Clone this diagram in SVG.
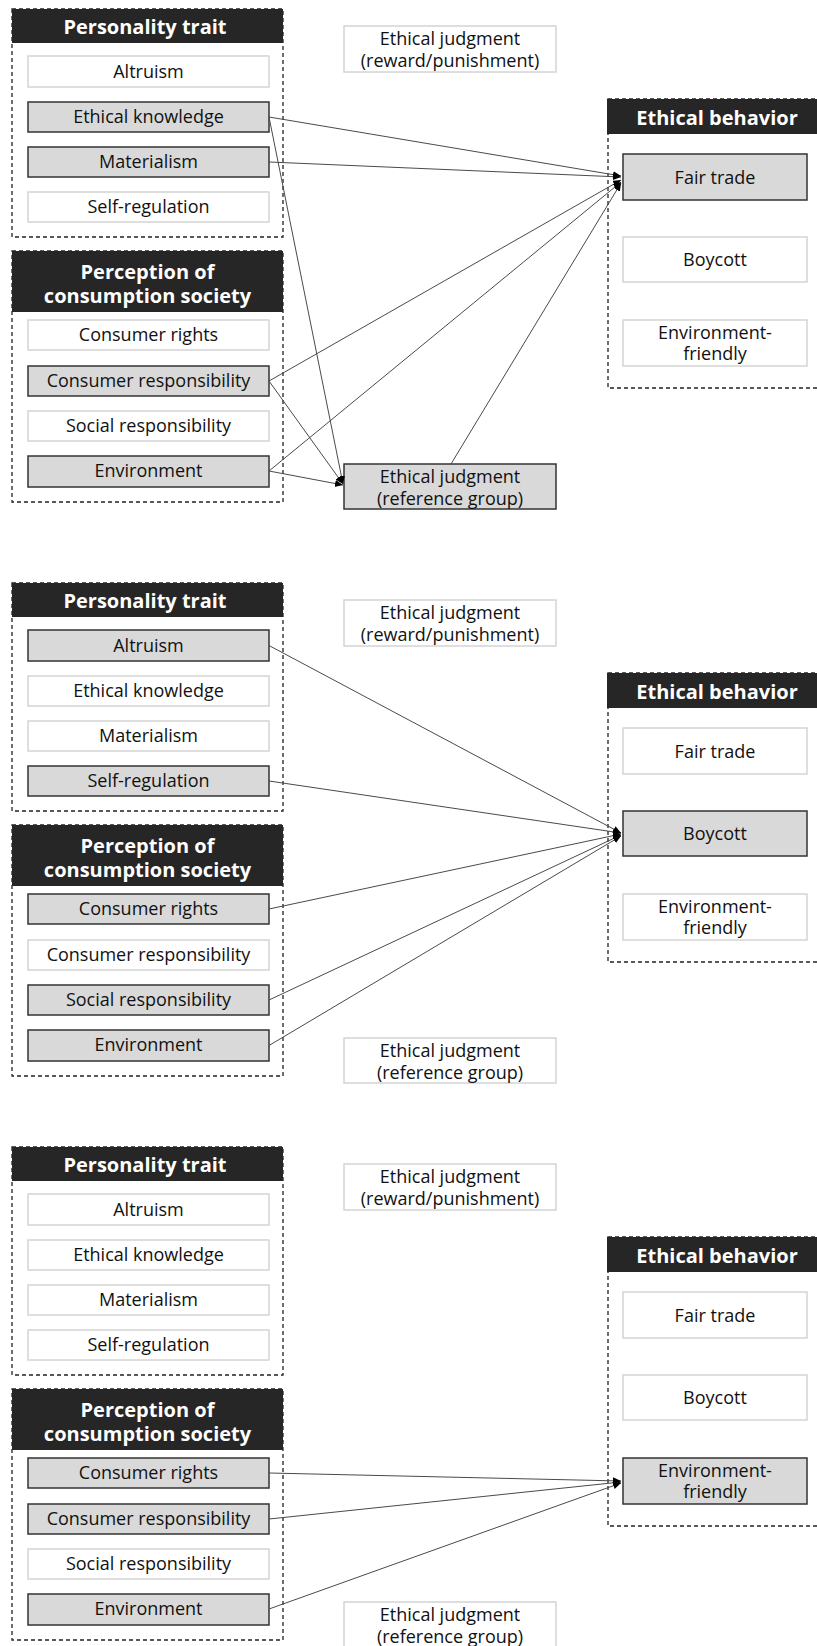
<svg xmlns="http://www.w3.org/2000/svg" width="817" height="1646" viewBox="0 0 817 1646">
<style>
text{font-family:"Open Sans","Noto Sans","DejaVu Sans",sans-serif;text-anchor:middle;fill:#111}
.hd{fill:#262626}
.hdt{font-weight:bold;font-size:20px;fill:#fff}
.dash{fill:none;stroke:#222;stroke-width:1.3;stroke-dasharray:4 3}
.on{fill:#d9d9d9;stroke:#333;stroke-width:1.5}
.off{fill:#fff;stroke:#d4d4d4;stroke-width:1.5}
.t{font-size:18px}
.ln{stroke:#4a4a4a;stroke-width:1;fill:none;marker-end:url(#ah)}
</style>
<defs>
<marker id="ah" markerUnits="userSpaceOnUse" markerWidth="9" markerHeight="8" refX="8" refY="3.5" orient="auto">
<path d="M0,0 L8,3.5 L0,7 z" fill="#000"/>
</marker>
</defs>
<rect width="817" height="1646" fill="#fff"/>

<!-- ========== PANEL 1 ========== -->
<g id="panel1">
<g id="p1-personality">
<rect class="dash" x="12" y="9" width="271" height="228"/>
<rect class="hd" x="12" y="9" width="271" height="34"/>
<text class="hdt" x="145" y="34">Personality trait</text>
</g>
<g id="p1-altruism"><rect class="off" x="28" y="56" width="241" height="31"/><text class="t" x="148.5" y="78">Altruism</text></g>
<g id="p1-ethical-knowledge"><rect class="on" x="28" y="102" width="241" height="30"/><text class="t" x="148.5" y="123">Ethical knowledge</text></g>
<g id="p1-materialism"><rect class="on" x="28" y="147" width="241" height="30"/><text class="t" x="148.5" y="168">Materialism</text></g>
<g id="p1-self-regulation"><rect class="off" x="28" y="192" width="241" height="30"/><text class="t" x="148.5" y="213">Self-regulation</text></g>
<g id="p1-perception">
<rect class="dash" x="12" y="251" width="271" height="251"/>
<rect class="hd" x="12" y="251" width="271" height="61"/>
<text class="hdt" x="147.5" y="279">Perception of</text>
<text class="hdt" x="147.5" y="303">consumption society</text>
</g>
<g id="p1-consumer-rights"><rect class="off" x="28" y="320" width="241" height="30"/><text class="t" x="148.5" y="341">Consumer rights</text></g>
<g id="p1-consumer-responsibility"><rect class="on" x="28" y="366" width="241" height="30"/><text class="t" x="148.5" y="387">Consumer responsibility</text></g>
<g id="p1-social-responsibility"><rect class="off" x="28" y="411" width="241" height="30"/><text class="t" x="148.5" y="432">Social responsibility</text></g>
<g id="p1-environment"><rect class="on" x="28" y="456" width="241" height="31"/><text class="t" x="148.5" y="477">Environment</text></g>
<g id="p1-judgment-reward"><rect class="off" x="344" y="26" width="212" height="46"/><text class="t" x="450" y="45">Ethical judgment</text><text class="t" x="450" y="67">(reward/punishment)</text></g>
<g id="p1-judgment-reference"><rect class="on" x="344" y="464" width="212" height="45"/><text class="t" x="450" y="483">Ethical judgment</text><text class="t" x="450" y="505">(reference group)</text></g>
<g id="p1-ethical-behavior">
<rect class="dash" x="608" y="99" width="240" height="289"/>
<rect class="hd" x="607" y="99" width="225" height="35"/>
<text class="hdt" x="717" y="125">Ethical behavior</text>
</g>
<g id="p1-fair-trade"><rect class="on" x="623" y="154" width="184" height="46"/><text class="t" x="715" y="184">Fair trade</text></g>
<g id="p1-boycott"><rect class="off" x="623" y="237" width="184" height="45"/><text class="t" x="715" y="266">Boycott</text></g>
<g id="p1-env-friendly"><rect class="off" x="623" y="320" width="184" height="46"/><text class="t" x="715" y="339">Environment-</text><text class="t" x="715" y="360">friendly</text></g>
</g>

<!-- ========== PANEL 2 ========== -->
<g id="panel2" transform="translate(0,574)">
<g id="p2-personality">
<rect class="dash" x="12" y="9" width="271" height="228"/>
<rect class="hd" x="12" y="9" width="271" height="34"/>
<text class="hdt" x="145" y="34">Personality trait</text>
</g>
<g id="p2-altruism"><rect class="on" x="28" y="56" width="241" height="31"/><text class="t" x="148.5" y="78">Altruism</text></g>
<g id="p2-ethical-knowledge"><rect class="off" x="28" y="102" width="241" height="30"/><text class="t" x="148.5" y="123">Ethical knowledge</text></g>
<g id="p2-materialism"><rect class="off" x="28" y="147" width="241" height="30"/><text class="t" x="148.5" y="168">Materialism</text></g>
<g id="p2-self-regulation"><rect class="on" x="28" y="192" width="241" height="30"/><text class="t" x="148.5" y="213">Self-regulation</text></g>
<g id="p2-perception">
<rect class="dash" x="12" y="251" width="271" height="251"/>
<rect class="hd" x="12" y="251" width="271" height="61"/>
<text class="hdt" x="147.5" y="279">Perception of</text>
<text class="hdt" x="147.5" y="303">consumption society</text>
</g>
<g id="p2-consumer-rights"><rect class="on" x="28" y="320" width="241" height="30"/><text class="t" x="148.5" y="341">Consumer rights</text></g>
<g id="p2-consumer-responsibility"><rect class="off" x="28" y="366" width="241" height="30"/><text class="t" x="148.5" y="387">Consumer responsibility</text></g>
<g id="p2-social-responsibility"><rect class="on" x="28" y="411" width="241" height="30"/><text class="t" x="148.5" y="432">Social responsibility</text></g>
<g id="p2-environment"><rect class="on" x="28" y="456" width="241" height="31"/><text class="t" x="148.5" y="477">Environment</text></g>
<g id="p2-judgment-reward"><rect class="off" x="344" y="26" width="212" height="46"/><text class="t" x="450" y="45">Ethical judgment</text><text class="t" x="450" y="67">(reward/punishment)</text></g>
<g id="p2-judgment-reference"><rect class="off" x="344" y="464" width="212" height="45"/><text class="t" x="450" y="483">Ethical judgment</text><text class="t" x="450" y="505">(reference group)</text></g>
<g id="p2-ethical-behavior">
<rect class="dash" x="608" y="99" width="240" height="289"/>
<rect class="hd" x="607" y="99" width="225" height="35"/>
<text class="hdt" x="717" y="125">Ethical behavior</text>
</g>
<g id="p2-fair-trade"><rect class="off" x="623" y="154" width="184" height="46"/><text class="t" x="715" y="184">Fair trade</text></g>
<g id="p2-boycott"><rect class="on" x="623" y="237" width="184" height="45"/><text class="t" x="715" y="266">Boycott</text></g>
<g id="p2-env-friendly"><rect class="off" x="623" y="320" width="184" height="46"/><text class="t" x="715" y="339">Environment-</text><text class="t" x="715" y="360">friendly</text></g>
</g>

<!-- ========== PANEL 3 ========== -->
<g id="panel3" transform="translate(0,1138)">
<g id="p3-personality">
<rect class="dash" x="12" y="9" width="271" height="228"/>
<rect class="hd" x="12" y="9" width="271" height="34"/>
<text class="hdt" x="145" y="34">Personality trait</text>
</g>
<g id="p3-altruism"><rect class="off" x="28" y="56" width="241" height="31"/><text class="t" x="148.5" y="78">Altruism</text></g>
<g id="p3-ethical-knowledge"><rect class="off" x="28" y="102" width="241" height="30"/><text class="t" x="148.5" y="123">Ethical knowledge</text></g>
<g id="p3-materialism"><rect class="off" x="28" y="147" width="241" height="30"/><text class="t" x="148.5" y="168">Materialism</text></g>
<g id="p3-self-regulation"><rect class="off" x="28" y="192" width="241" height="30"/><text class="t" x="148.5" y="213">Self-regulation</text></g>
<g id="p3-perception">
<rect class="dash" x="12" y="251" width="271" height="251"/>
<rect class="hd" x="12" y="251" width="271" height="61"/>
<text class="hdt" x="147.5" y="279">Perception of</text>
<text class="hdt" x="147.5" y="303">consumption society</text>
</g>
<g id="p3-consumer-rights"><rect class="on" x="28" y="320" width="241" height="30"/><text class="t" x="148.5" y="341">Consumer rights</text></g>
<g id="p3-consumer-responsibility"><rect class="on" x="28" y="366" width="241" height="30"/><text class="t" x="148.5" y="387">Consumer responsibility</text></g>
<g id="p3-social-responsibility"><rect class="off" x="28" y="411" width="241" height="30"/><text class="t" x="148.5" y="432">Social responsibility</text></g>
<g id="p3-environment"><rect class="on" x="28" y="456" width="241" height="31"/><text class="t" x="148.5" y="477">Environment</text></g>
<g id="p3-judgment-reward"><rect class="off" x="344" y="26" width="212" height="46"/><text class="t" x="450" y="45">Ethical judgment</text><text class="t" x="450" y="67">(reward/punishment)</text></g>
<g id="p3-judgment-reference"><rect class="off" x="344" y="464" width="212" height="45"/><text class="t" x="450" y="483">Ethical judgment</text><text class="t" x="450" y="505">(reference group)</text></g>
<g id="p3-ethical-behavior">
<rect class="dash" x="608" y="99" width="240" height="289"/>
<rect class="hd" x="607" y="99" width="225" height="35"/>
<text class="hdt" x="717" y="125">Ethical behavior</text>
</g>
<g id="p3-fair-trade"><rect class="off" x="623" y="154" width="184" height="46"/><text class="t" x="715" y="184">Fair trade</text></g>
<g id="p3-boycott"><rect class="off" x="623" y="237" width="184" height="45"/><text class="t" x="715" y="266">Boycott</text></g>
<g id="p3-env-friendly"><rect class="on" x="623" y="320" width="184" height="46"/><text class="t" x="715" y="339">Environment-</text><text class="t" x="715" y="360">friendly</text></g>
</g>

<!-- ========== CONNECTORS ========== -->
<g id="connectors">
<g id="c-panel1">
<line class="ln" x1="269" y1="117" x2="621" y2="176"/>
<line class="ln" x1="269" y1="117" x2="343" y2="484"/>
<line class="ln" x1="269" y1="162" x2="621" y2="177"/>
<line class="ln" x1="269" y1="381" x2="621" y2="180"/>
<line class="ln" x1="269" y1="381" x2="343" y2="484"/>
<line class="ln" x1="269" y1="471" x2="621" y2="182"/>
<line class="ln" x1="269" y1="471" x2="343" y2="485"/>
<line class="ln" x1="451" y1="464" x2="621" y2="183"/>
</g>
<g id="c-panel2" transform="translate(0,574)">
<line class="ln" x1="269" y1="71.5" x2="621" y2="259"/>
<line class="ln" x1="269" y1="207" x2="621" y2="259"/>
<line class="ln" x1="269" y1="335" x2="621" y2="260"/>
<line class="ln" x1="269" y1="426" x2="621" y2="261"/>
<line class="ln" x1="269" y1="471.5" x2="621" y2="262"/>
</g>
<g id="c-panel3" transform="translate(0,1138)">
<line class="ln" x1="269" y1="335" x2="621" y2="343"/>
<line class="ln" x1="269" y1="381" x2="621" y2="344"/>
<line class="ln" x1="269" y1="471" x2="621" y2="345"/>
</g>
</g>
</svg>
